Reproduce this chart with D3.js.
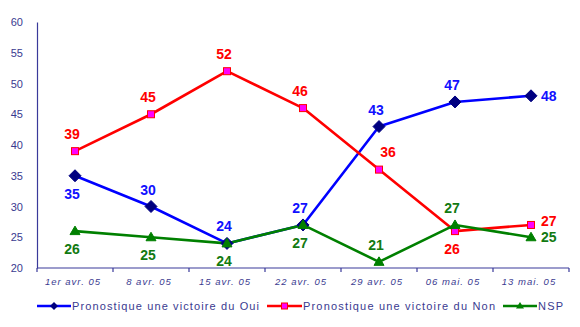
<!DOCTYPE html>
<html>
<head>
<meta charset="utf-8">
<script src="https://cdn.jsdelivr.net/npm/d3@7"></script>
<style>
  html, body { margin: 0; padding: 0; background: #fff; }
  svg { display: block; }
</style>
</head>
<body>
<svg id="chart" width="580" height="327"></svg>
<script>
// Poll dates
const categories = ["1er avr. 05", "8 avr. 05", "15 avr. 05", "22 avr. 05", "29 avr. 05", "06 mai. 05", "13 mai. 05"];
// Series values (%)
const ouiValues = [35, 30, 24, 27, 43, 47, 48];
const nonValues = [39, 45, 52, 46, 36, 26, 27];
const nspValues = [26, 25, 24, 27, 21, 27, 25];
// Y axis ticks
const yTicks = [20, 25, 30, 35, 40, 45, 50, 55, 60];
// Label placement per point: "a" above, "b" below, "r" right, "ru" right and raised, "ar" above-right
const ouiPos = ["b", "a", "a", "a", "a", "a", "r"];
const nonPos = ["a", "a", "a", "a", "ar", "b", "ru"];
const nspPos = ["b", "b", "b", "b", "a", "a", "r"];

const series = [
  { name: "Pronostique une victoire du Oui", values: ouiValues, pos: ouiPos,
    line: "#0000ff", marker: "diamond", fill: "#000080", stroke: "#000080", label: "#1010ff" },
  { name: "Pronostique une victoire du Non", values: nonValues, pos: nonPos,
    line: "#ff0000", marker: "square", fill: "#ff00ff", stroke: "#ff0000", label: "#ff0000" },
  { name: "NSP", values: nspValues, pos: nspPos,
    line: "#008000", marker: "triangle", fill: "#008000", stroke: "#008000", label: "#127a12" }
];

const svg = d3.select("#chart");
const plotLeft = 37, plotRight = 569, plotTop = 22, plotBottom = 268;
const axisColor = "#3a3a9a";
const textColor = "#3a3a90";

const x = d3.scaleBand().domain(categories).range([plotLeft, plotRight]);
const y = d3.scaleLinear().domain([20, 60]).range([plotBottom, plotTop]);

// Y axis
const yAxis = svg.append("g").attr("transform", `translate(${plotLeft},0)`)
  .call(d3.axisLeft(y).tickValues(yTicks).tickSize(0).tickPadding(14));
yAxis.select(".domain").attr("stroke", axisColor).attr("stroke-width", 1.2);
yAxis.selectAll("text").attr("fill", textColor)
  .style("font-family", "Arial, 'Liberation Sans', sans-serif").style("font-size", "11px");

// X axis with ticks at band boundaries
const xAxis = svg.append("g").attr("transform", `translate(0,${plotBottom})`);
xAxis.append("line").attr("x1", plotLeft).attr("x2", plotRight).attr("y1", 0).attr("y2", 0)
  .attr("stroke", axisColor).attr("stroke-width", 1.2);
const bounds = categories.map(c => x(c)).concat([plotRight]);
xAxis.selectAll("line.tick").data(bounds).join("line").attr("class", "tick")
  .attr("x1", d => d).attr("x2", d => d).attr("y1", 0).attr("y2", 4)
  .attr("stroke", axisColor).attr("stroke-width", 1.2);
xAxis.selectAll("text").data(categories).join("text")
  .attr("x", d => x(d) + x.bandwidth() / 2 - 2)
  .attr("y", 17)
  .attr("text-anchor", "middle")
  .attr("fill", textColor)
  .style("font-family", "Arial, 'Liberation Sans', sans-serif")
  .style("font-size", "9.5px").style("font-style", "italic").style("letter-spacing", "1px")
  .text(d => d);

const cx = c => x(c) + x.bandwidth() / 2;

function drawMarker(g, type, px, py, s) {
  if (type === "diamond") {
    g.append("path").attr("d", `M${px},${py - 6}L${px + 6},${py}L${px},${py + 6}L${px - 6},${py}Z`)
      .attr("fill", s.fill).attr("stroke", s.stroke).attr("stroke-width", 1);
  } else if (type === "square") {
    g.append("rect").attr("x", px - 3.5).attr("y", py - 3.5).attr("width", 7).attr("height", 7)
      .attr("fill", s.fill).attr("stroke", s.stroke).attr("stroke-width", 1);
  } else {
    g.append("path").attr("d", `M${px},${py - 5}L${px + 5},${py + 3.5}L${px - 5},${py + 3.5}Z`)
      .attr("fill", s.fill).attr("stroke", s.stroke).attr("stroke-width", 1);
  }
}

const line = d3.line().x((d, i) => cx(categories[i])).y(d => y(d));

// Lines
series.forEach(s => {
  svg.append("path").datum(s.values).attr("d", line)
    .attr("fill", "none").attr("stroke", s.line).attr("stroke-width", 2.6)
    .attr("stroke-linejoin", "round");
});

// Markers
series.forEach(s => {
  const g = svg.append("g");
  s.values.forEach((v, i) => drawMarker(g, s.marker, cx(categories[i]), y(v), s));
});

// Value labels
series.forEach(s => {
  svg.append("g").selectAll("text").data(s.values).join("text")
    .attr("x", (d, i) => {
      const p = s.pos[i], px = cx(categories[i]);
      if (p === "r" || p === "ru") return px + 10;
      if (p === "ar") return px + 9;
      return px - 3;
    })
    .attr("y", (d, i) => {
      const p = s.pos[i], py = y(d);
      if (p === "a") return py - 12;
      if (p === "ar") return py - 13;
      if (p === "b") return py + 23;
      if (p === "ru") return py + 1;
      return py + 5;
    })
    .attr("text-anchor", (d, i) => (s.pos[i] === "r" || s.pos[i] === "ru") ? "start" : "middle")
    .attr("fill", s.label)
    .style("font-family", "Arial, 'Liberation Sans', sans-serif")
    .style("font-size", "14px").style("font-weight", "bold")
    .text(d => d);
});

// Legend
const legendY = 306;
const legendItems = [
  { s: series[0], x0: 37, x1: 71, tx: 72, w: 187 },
  { s: series[1], x0: 267, x1: 302, tx: 303, w: 192 },
  { s: series[2], x0: 503, x1: 537, tx: 538, w: 25 }
];
legendItems.forEach(it => {
  const g = svg.append("g");
  g.append("line").attr("x1", it.x0).attr("x2", it.x1).attr("y1", legendY).attr("y2", legendY)
    .attr("stroke", it.s.line).attr("stroke-width", 2.6);
  const m = it.s.marker;
  const mx = (it.x0 + it.x1) / 2;
  if (m === "diamond") {
    g.append("path").attr("d", `M${mx},${legendY - 4}L${mx + 4},${legendY}L${mx},${legendY + 4}L${mx - 4},${legendY}Z`)
      .attr("fill", it.s.fill);
  } else if (m === "square") {
    g.append("rect").attr("x", mx - 3).attr("y", legendY - 3).attr("width", 6).attr("height", 6)
      .attr("fill", it.s.fill).attr("stroke", it.s.stroke);
  } else {
    g.append("path").attr("d", `M${mx},${legendY - 4}L${mx + 4},${legendY + 2.5}L${mx - 4},${legendY + 2.5}Z`)
      .attr("fill", it.s.fill);
  }
  g.append("text").attr("x", it.tx).attr("y", legendY + 4)
    .attr("fill", textColor)
    .attr("textLength", it.w).attr("lengthAdjust", "spacing")
    .style("font-family", "Arial, 'Liberation Sans', sans-serif")
    .style("font-size", "11px")
    .text(it.s.name);
});
</script>
</body>
</html>
